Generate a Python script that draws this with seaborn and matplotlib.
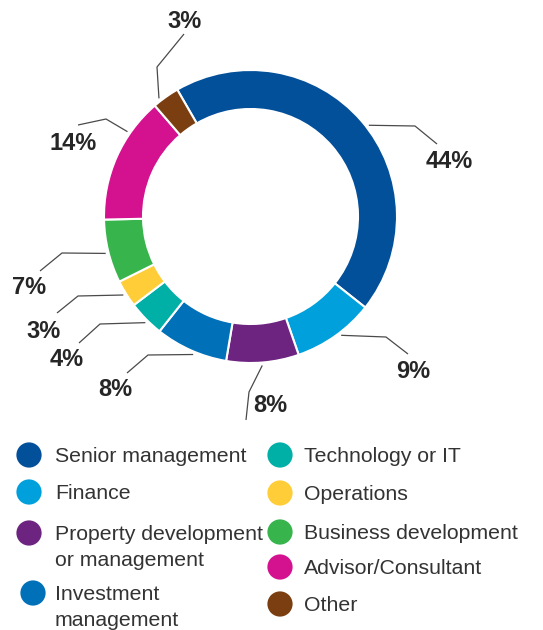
import numpy as np
import matplotlib
matplotlib.use("Agg")
import matplotlib.pyplot as plt
import seaborn as sns

# ---- data ----
categories = ["Senior management", "Finance", "Property development\nor management",
              "Investment\nmanagement", "Technology or IT", "Operations",
              "Business development", "Advisor/Consultant", "Other"]
shares = [44, 9, 8, 8, 4, 3, 7, 14, 3]
hex_colors = ["#03509A", "#00A0DC", "#6C2480", "#0071B9", "#00AFA5",
              "#FFCD37", "#37B44B", "#D4118E", "#7A3E10"]

# ---- layout (pixels, origin top-left) ----
W, H = 543, 630
cx, cy = 250.5, 216.5
r_out, ring_w = 146.5, 39
anchor_frac = [0.52, 0.44, 0.51, 0.45, 0.44, 0.51, 0.48, 0.71, 0.28]
elbow_px = [(415, 126), (386, 337), (249, 392), (148, 355), (100, 324),
            (78, 296), (62, 253), (106, 119), (157, 67)]
end_px = [(437, 144), (408, 354), (246, 420), (127, 373), (79, 343),
          (57, 313), (40, 271), (78, 125), (184, 34)]
label_px = [(449, 161), (413, 372), (270, 406), (115, 389), (67, 359),
            (44, 331), (29, 288), (73, 143), (185, 21)]

legend_col = [0, 0, 0, 0, 1, 1, 1, 1, 1]
legend_y = [455, 492, 533, 593, 455, 493, 532, 567, 604]
marker_x = [29, 280]
text_x = [55, 304]
line_gap = 26

sns.set_theme(style="white")
plt.rcParams["font.family"] = ["Liberation Sans", "DejaVu Sans"]
palette = sns.color_palette(hex_colors)

fig = plt.figure(figsize=(W / 100, H / 100), dpi=100)
ax = fig.add_axes([0, 0, 1, 1])

wedges, _ = ax.pie(shares, colors=palette, startangle=120, counterclock=False,
                   radius=r_out, center=(cx, H - cy),
                   wedgeprops=dict(width=ring_w, edgecolor="white", linewidth=1.5))

# ---- leader lines + percentage labels ----
for w, v, f, p1, p2, lp in zip(wedges, shares, anchor_frac, elbow_px, end_px, label_px):
    ang = np.deg2rad(w.theta2 - f * (w.theta2 - w.theta1))
    ax0 = cx + 1.02 * r_out * np.cos(ang)
    ay0 = (H - cy) + 1.02 * r_out * np.sin(ang)
    xs = [ax0, p1[0], p2[0]]
    ys = [ay0, H - p1[1], H - p2[1]]
    ax.plot(xs, ys, color="#4a4a4a", lw=0.9, solid_capstyle="butt")
    ax.text(lp[0], H - lp[1], f"{v}%", ha="center", va="center",
            fontsize=17, fontweight="bold", color="#262626")

# ---- legend ----
for c, lab, col, y in zip(palette, categories, legend_col, legend_y):
    mx = marker_x[col] + (4 if lab.startswith("Investment") else 0)
    ax.scatter([mx], [H - y], s=330, color=c, edgecolors="none", zorder=3)
    for i, line in enumerate(lab.split("\n")):
        ax.text(text_x[col], H - y - 7 - i * line_gap, line, ha="left", va="baseline",
                fontsize=15.3, color="#333333")

ax.set_xlim(0, W)
ax.set_ylim(0, H)
ax.set_aspect("auto")
ax.axis("off")

fig.savefig("out.png", dpi=100)
